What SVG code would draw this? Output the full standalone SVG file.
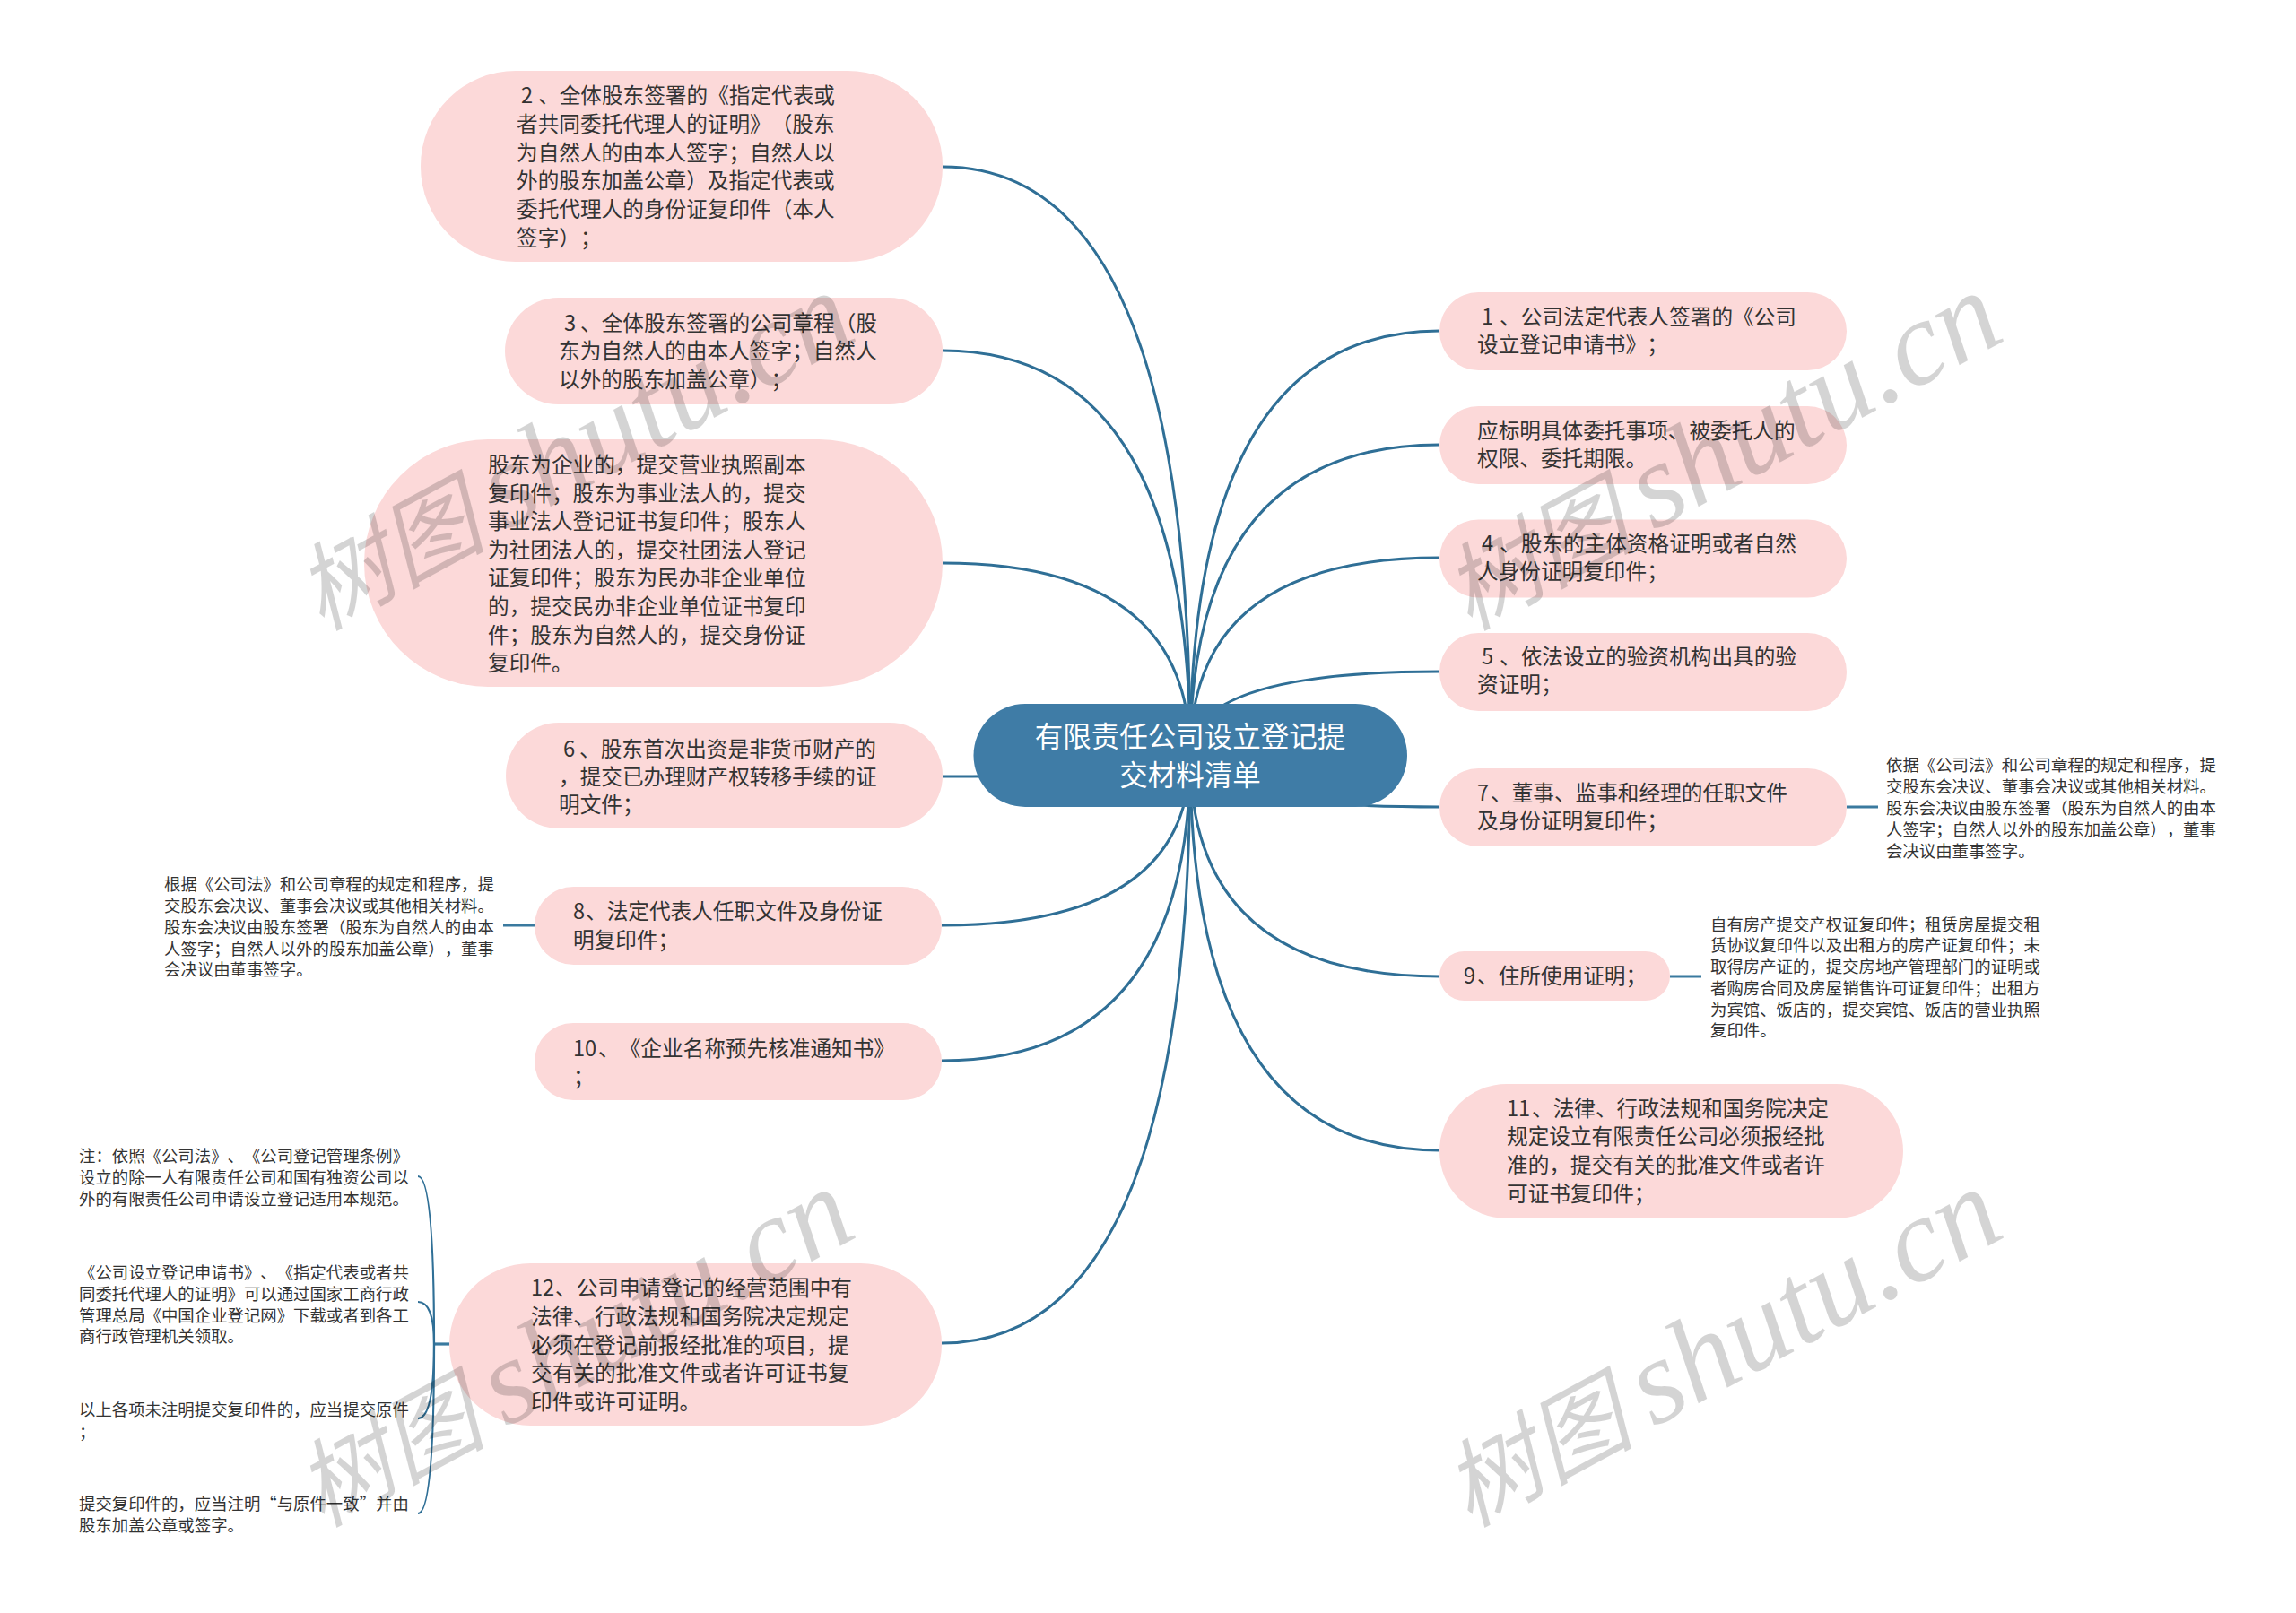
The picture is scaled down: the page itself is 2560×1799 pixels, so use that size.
<svg xmlns="http://www.w3.org/2000/svg" width="2560" height="1799" viewBox="0 0 2560 1799">
<style>
text{font-family:"Noto Sans CJK SC","Noto Sans",sans-serif;fill:#333;text-spacing-trim:space-all;font-feature-settings:"chws" 0,"palt" 0}
.b{fill:#fcd9d9}
.t{font-size:23.65px;transform:translate(0,-1px)}
.d{font-size:18.4px}
.c{font-size:31.5px;fill:#fff;text-anchor:middle}
.l{fill:none;stroke:#2f6f96;stroke-width:3}
.s{fill:none;stroke:#3a7a9f;stroke-width:3.2}
.k{fill:none;stroke:#2f6f96;stroke-width:2.2}
.wm text{fill:#000;fill-opacity:.17}
.w1{font-size:106px;font-style:italic}
.w2{font-family:"Liberation Serif",serif;font-size:134px;font-style:italic}
</style>
<rect width="2560" height="1799" fill="#fff"/>
<g id="connectors">
<path class="l" d="M1327 842Q1327 186 1051 186"/>
<path class="l" d="M1327 842Q1327 391 1051 391"/>
<path class="l" d="M1327 842Q1327 628 1051 628"/>
<path class="l" d="M1327 842Q1327 866 1051 866"/>
<path class="l" d="M1327 842Q1327 1032 1050 1032"/>
<path class="l" d="M1327 842Q1327 1183 1050 1183"/>
<path class="l" d="M1327 842Q1327 1498 1050 1498"/>
<path class="l" d="M1327 842Q1327 369 1605 369"/>
<path class="l" d="M1327 842Q1327 496 1605 496"/>
<path class="l" d="M1327 842Q1327 622 1605 622"/>
<path class="l" d="M1327 842Q1327 749 1605 749"/>
<path class="l" d="M1327 842Q1327 900 1605 900"/>
<path class="l" d="M1327 842Q1327 1089 1605 1089"/>
<path class="l" d="M1327 842Q1327 1283 1605 1283"/>
<path class="s" d="M2059 900H2094"/>
<path class="s" d="M1862 1089H1897"/>
<path class="s" d="M596 1032H561"/>
<path class="s" d="M501 1499H484"/>
<path class="k" d="M484 1499Q484 1312 466 1312"/>
<path class="k" d="M484 1499Q484 1452 466 1452"/>
<path class="k" d="M484 1499Q484 1582 466 1582"/>
<path class="k" d="M484 1499Q484 1688 466 1688"/>
</g>
<g id="center"><rect x="1085.5" y="785" width="483.5" height="115" rx="57.5" fill="#3f7ca6"/>
<text class="c" x="1327" y="833">有限责任公司设立登记提</text><text class="c" x="1327" y="876">交材料清单</text></g>
<g id="n2"><rect class="b" x="469" y="79" width="582" height="213" rx="106"/>
<text class="t" y="116"><tspan x="581">2</tspan><tspan x="600">、全体股东签署的《指定代表或</tspan></text>
<text class="t" x="576" y="148">者共同委托代理人的证明》（股东</text>
<text class="t" x="576" y="180">为自然人的由本人签字；自然人以</text>
<text class="t" x="576" y="211">外的股东加盖公章）及指定代表或</text>
<text class="t" x="576" y="243">委托代理人的身份证复印件（本人</text>
<text class="t" x="576" y="275">签字）；</text></g>
<g id="n3"><rect class="b" x="563" y="332" width="488" height="119" rx="59.5"/>
<text class="t" y="370"><tspan x="629">3</tspan><tspan x="647">、全体股东签署的公司章程（股</tspan></text>
<text class="t" x="623" y="401">东为自然人的由本人签字；自然人</text>
<text class="t" x="623" y="433">以外的股东加盖公章）；</text></g>
<g id="n3b"><rect class="b" x="406" y="490" width="645" height="276" rx="138"/>
<text class="t" x="544" y="528">股东为企业的，提交营业执照副本</text>
<text class="t" x="544" y="560">复印件；股东为事业法人的，提交</text>
<text class="t" x="544" y="591">事业法人登记证书复印件；股东人</text>
<text class="t" x="544" y="623">为社团法人的，提交社团法人登记</text>
<text class="t" x="544" y="654">证复印件；股东为民办非企业单位</text>
<text class="t" x="544" y="686">的，提交民办非企业单位证书复印</text>
<text class="t" x="544" y="718">件；股东为自然人的，提交身份证</text>
<text class="t" x="544" y="749">复印件。</text></g>
<g id="n6"><rect class="b" x="564" y="806" width="487" height="118" rx="59"/>
<text class="t" y="845"><tspan x="628">6</tspan><tspan x="646">、股东首次出资是非货币财产的</tspan></text>
<text class="t" x="623" y="876">，提交已办理财产权转移手续的证</text>
<text class="t" x="623" y="907">明文件；</text></g>
<g id="n8"><rect class="b" x="596" y="989" width="454" height="87" rx="43.5"/>
<text class="t" y="1026"><tspan x="639">8</tspan><tspan x="653">、法定代表人任职文件及身份证</tspan></text>
<text class="t" x="639" y="1058">明复印件；</text></g>
<g id="n8d">
<text class="d" x="183" y="993">根据《公司法》和公司章程的规定和程序，提</text>
<text class="d" x="183" y="1017">交股东会决议、董事会决议或其他相关材料。</text>
<text class="d" x="183" y="1041">股东会决议由股东签署（股东为自然人的由本</text>
<text class="d" x="183" y="1065">人签字；自然人以外的股东加盖公章），董事</text>
<text class="d" x="183" y="1088">会决议由董事签字。</text></g>
<g id="n10"><rect class="b" x="596" y="1141" width="454" height="86" rx="43"/>
<text class="t" y="1179"><tspan x="639">10</tspan><tspan x="667">、《企业名称预先核准通知书》</tspan></text>
<text class="t" x="639" y="1211">；</text></g>
<g id="n12"><rect class="b" x="501" y="1409" width="549" height="181" rx="90.5"/>
<text class="t" y="1446"><tspan x="592">12</tspan><tspan x="619">、公司申请登记的经营范围中有</tspan></text>
<text class="t" x="592" y="1478">法律、行政法规和国务院决定规定</text>
<text class="t" x="592" y="1510">必须在登记前报经批准的项目，提</text>
<text class="t" x="592" y="1541">交有关的批准文件或者许可证书复</text>
<text class="t" x="592" y="1573">印件或许可证明。</text></g>
<g id="n12d">
<text class="d" x="88" y="1296">注：依照《公司法》、《公司登记管理条例》</text>
<text class="d" x="88" y="1320">设立的除一人有限责任公司和国有独资公司以</text>
<text class="d" x="88" y="1344">外的有限责任公司申请设立登记适用本规范。</text>
<text class="d" x="88" y="1426">《公司设立登记申请书》、《指定代表或者共</text>
<text class="d" x="88" y="1450">同委托代理人的证明》可以通过国家工商行政</text>
<text class="d" x="88" y="1474">管理总局《中国企业登记网》下载或者到各工</text>
<text class="d" x="88" y="1497">商行政管理机关领取。</text>
<text class="d" x="88" y="1579">以上各项未注明提交复印件的，应当提交原件</text>
<text class="d" x="88" y="1604">；</text>
<text class="d" x="88" y="1684">提交复印件的，应当注明“与原件一致”并由</text>
<text class="d" x="88" y="1708">股东加盖公章或签字。</text></g>
<g id="n1"><rect class="b" x="1605" y="326" width="454" height="87" rx="43.5"/>
<text class="t" y="363"><tspan x="1652">1</tspan><tspan x="1672">、公司法定代表人签署的《公司</tspan></text>
<text class="t" x="1647" y="394">设立登记申请书》；</text></g>
<g id="n1b"><rect class="b" x="1605" y="453" width="454" height="87" rx="43.5"/>
<text class="t" x="1647" y="490">应标明具体委托事项、被委托人的</text>
<text class="t" x="1647" y="521">权限、委托期限。</text></g>
<g id="n4"><rect class="b" x="1605" y="579.5" width="454" height="87" rx="43.5"/>
<text class="t" y="616"><tspan x="1652">4</tspan><tspan x="1672">、股东的主体资格证明或者自然</tspan></text>
<text class="t" x="1647" y="647">人身份证明复印件；</text></g>
<g id="n5"><rect class="b" x="1605" y="706" width="454" height="87" rx="43.5"/>
<text class="t" y="742"><tspan x="1652">5</tspan><tspan x="1672">、依法设立的验资机构出具的验</tspan></text>
<text class="t" x="1647" y="773">资证明；</text></g>
<g id="n7"><rect class="b" x="1605" y="857" width="454" height="87" rx="43.5"/>
<text class="t" y="894"><tspan x="1647">7</tspan><tspan x="1662">、董事、监事和经理的任职文件</tspan></text>
<text class="t" x="1647" y="925">及身份证明复印件；</text></g>
<g id="n7d">
<text class="d" x="2103" y="860">依据《公司法》和公司章程的规定和程序，提</text>
<text class="d" x="2103" y="884">交股东会决议、董事会决议或其他相关材料。</text>
<text class="d" x="2103" y="908">股东会决议由股东签署（股东为自然人的由本</text>
<text class="d" x="2103" y="932">人签字；自然人以外的股东加盖公章），董事</text>
<text class="d" x="2103" y="956">会决议由董事签字。</text></g>
<g id="n9"><rect class="b" x="1605" y="1061" width="257" height="55" rx="27.5"/>
<text class="t" y="1098"><tspan x="1632">9</tspan><tspan x="1647">、住所使用证明；</tspan></text></g>
<g id="n9d">
<text class="d" x="1907" y="1038">自有房产提交产权证复印件；租赁房屋提交租</text>
<text class="d" x="1907" y="1061">赁协议复印件以及出租方的房产证复印件；未</text>
<text class="d" x="1907" y="1085">取得房产证的，提交房地产管理部门的证明或</text>
<text class="d" x="1907" y="1109">者购房合同及房屋销售许可证复印件；出租方</text>
<text class="d" x="1907" y="1133">为宾馆、饭店的，提交宾馆、饭店的营业执照</text>
<text class="d" x="1907" y="1156">复印件。</text></g>
<g id="n11"><rect class="b" x="1605" y="1209" width="517" height="150" rx="75"/>
<text class="t" y="1246"><tspan x="1680">11</tspan><tspan x="1708">、法律、行政法规和国务院决定</tspan></text>
<text class="t" x="1680" y="1277">规定设立有限责任公司必须报经批</text>
<text class="t" x="1680" y="1309">准的，提交有关的批准文件或者许</text>
<text class="t" x="1680" y="1341">可证书复印件；</text></g>
<g class="wm">
<text transform="translate(1638 1704) rotate(-28.5)"><tspan class="w1">树图</tspan><tspan class="w2" dx="22">shutu.cn</tspan></text>
<text transform="translate(358 1704) rotate(-28.5)"><tspan class="w1">树图</tspan><tspan class="w2" dx="22">shutu.cn</tspan></text>
<text transform="translate(1638 704) rotate(-28.5)"><tspan class="w1">树图</tspan><tspan class="w2" dx="22">shutu.cn</tspan></text>
<text transform="translate(358 704) rotate(-28.5)"><tspan class="w1">树图</tspan><tspan class="w2" dx="22">shutu.cn</tspan></text>
</g>
</svg>
